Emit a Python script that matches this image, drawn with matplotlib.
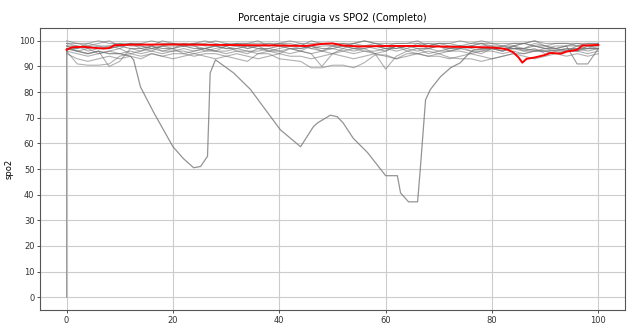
import matplotlib
matplotlib.use("Agg")
import matplotlib.pyplot as plt
import numpy as np

# ---- data ----
pct = list(range(0, 101, 2))  # 51 points

s_high = [99,99,99,100,99,99,99,99,100,99, 99,99,99,99,100,99,99,99,99,99,
          99,100,99,99,99,99,99,99,100,99, 99,99,99,99,99,99,99,100,99,99,
          99,99,99,99,100,99,99,99,99,99, 99]
s_98 = [98,98,97,98,98,99,98,98,97,98, 98,98,99,98,98,97,98,98,98,99,
        98,98,98,97,98,98,99,98,98,98, 97,98,98,98,98,99,98,98,97,98,
        98,98,98,99,98,98,97,98,98,98, 98]
s_dip9 = [97,96,95,96,90,92,97,96,97,96, 96,97,96,97,96,96,97,96,96,97,
          96,97,96,95,96,97,96,97,96,96, 97,96,97,96,97,96,96,97,96,96,
          97,96,97,96,96,97,96,96,97,96, 97]
s_dip49 = [96,95,94,95,96,95,96,95,96,95, 96,96,95,96,96,95,96,96,95,96,
           96,95,96,95,90,95,96,95,96,95, 89,94,96,95,96,95,96,96,95,96,
           96,95,96,95,96,96,95,96,96,95, 96]
zero_start = 0
s_zero = [97,97,98,97,97,98,97,97,98,97, 97,98,97,97,98,97,97,98,97,97,
          98,97,97,98,97,97,98,97,97,98, 97,97,98,97,97,98,97,97,98,97,
          97,98,97,97,98,97,97,98,91,91, 97]
s_wavy = [95,93,92,93,94,93,94,93,95,94, 93,94,95,94,93,94,95,94,93,94,
          95,94,94,93,94,95,94,93,94,95, 94,93,94,95,94,94,93,94,95,94,
          93,94,95,94,93,94,95,94,95,94, 95]
s_jag = [98,97,99,98,97,98,99,98,97,98, 99,98,98,97,98,99,98,97,98,98,
         99,98,97,98,99,98,98,97,98,99, 98,97,98,98,99,98,97,98,98,99,
         98,97,98,99,98,97,98,98,99,98, 98]
s_low = [96,91,90.5,90.5,91,94,95,94,95,94, 95,95,94,95,95,94,93,92,95,95,
         93,92.5,92,89.5,89.5,90.5,90.5,89.5,91.5,94.5, 94.5,93,95,95,94,95,93.5,93,93,92,
         93,94,95,95,96,96,95,96,96,97, 97]
s_97a = [99,98,96,97,98,97,99,97,96,98, 97,99,98,96,97,98,99,97,98,96,
         97,98,99,97,96,98,97,99,98,97, 96,98,97,99,97,98,96,97,98,99,
         97,96,98,97,99,98,97,96,98,97, 99]
s_96b = [98,96,97,95,96,97,95,96,98,96, 97,95,96,97,96,98,96,95,97,96,
         95,97,96,98,96,95,97,96,97,95, 96,98,96,97,95,96,97,98,96,95,
         97,96,98,96,97,95,96,97,96,98, 97]
s_99b = [100,99,98,99,100,98,99,99,98,100, 99,98,99,100,99,98,99,99,100,98,
         99,99,98,100,99,99,98,99,100,99, 98,99,99,100,98,99,99,98,99,100,
         99,98,99,99,100,98,99,99,98,99, 99]

gray_series = [s_high, s_98, s_dip9, s_dip49, s_wavy, s_jag, s_low, s_97a, s_96b, s_99b]

dip_x = [0, 2, 4, 6, 8, 10, 12, 12.6, 13.9, 16.4, 20, 22, 23.9, 25.2, 26.5, 27, 28,
         31.4, 34.6, 37.8, 40.2, 44, 46.4, 47.2, 49.6, 50.9, 52, 53.9, 56.6, 60,
         62.2, 62.8, 64.3, 66, 66.5, 67.5, 68.4, 70.3, 72.2, 74, 75.4, 76.5, 80,
         85, 90, 95, 100]
dip_y = [97, 96, 95, 96, 95, 95, 94, 92.6, 82, 72, 58.7, 54, 50.5, 51, 55, 87.5, 92.6,
         87.5, 81, 72, 65.3, 58.7, 66.5, 68, 71, 70.4, 68, 62, 56.4, 47.4,
         47.4, 40.7, 37.2, 37.2, 49.7, 77, 81, 86, 89.5, 91.4, 94.5, 96.5, 97,
         97, 96, 97, 97]

red_x = [0, 1, 3, 5, 7, 8, 9, 12, 20, 30, 40, 45, 48, 50, 52, 55, 60, 65, 70, 75,
         80, 82, 83, 84, 85, 85.7, 86.5, 88, 90, 91, 93, 94, 96, 97, 100]
red_y = [96.5, 97.5, 97.7, 97.3, 97, 97.2, 98.3, 98.5, 98.6, 98.4, 98.2, 98.0, 98.8,
         99.0, 98.2, 97.8, 98.0, 98.0, 97.8, 97.6, 97.4, 97.0, 96.5, 95.5, 93.5,
         91.5, 93.0, 93.5, 94.5, 95.3, 95.0, 95.8, 96.5, 98.2, 98.4]

# ---- plot ----
fig = plt.figure(figsize=(6.29, 3.26), dpi=100)
ax = fig.add_axes([0.0636, 0.049, 0.93, 0.865])

gcol = "#707070"
for s in gray_series:
    ax.plot(pct, s, color=gcol, alpha=0.55, lw=0.8)
ax.plot([0] + pct, [zero_start] + s_zero, color=gcol, alpha=0.7, lw=0.8)
ax.plot(dip_x, dip_y, color=gcol, alpha=0.75, lw=0.9)
ax.plot(red_x, red_y, color="red", lw=1.4)

ax.set_xlim(-5, 105)
ax.set_ylim(-5, 105)
ax.set_xticks([0, 20, 40, 60, 80, 100])
ax.set_yticks(range(0, 101, 10))
ax.grid(True, color="#cccccc", lw=0.8)
ax.set_axisbelow(True)
ax.tick_params(labelsize=6, length=2.5, width=0.6, pad=1.5, colors="#333333")
for sp in ax.spines.values():
    sp.set_color("#555555")
    sp.set_linewidth(0.8)
ax.set_title("Porcentaje cirugia vs SPO2 (Completo)", fontsize=7, pad=5)
ax.set_ylabel("spo2", fontsize=6)

fig.savefig("out.png", dpi=100)
